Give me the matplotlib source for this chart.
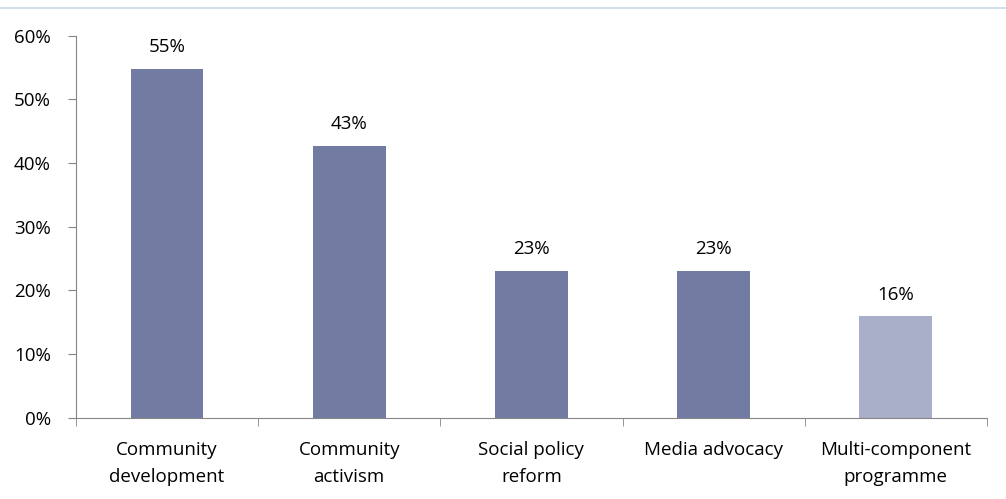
import numpy as np
import matplotlib.pyplot as plt
from matplotlib.lines import Line2D
from matplotlib.ticker import PercentFormatter

categories = ['Community\ndevelopment', 'Community\nactivism', 'Social policy\nreform',
              'Media advocacy', 'Multi-component\nprogramme']
values = [54.8, 42.7, 23.1, 23.1, 15.9]
labels = ['55%', '43%', '23%', '23%', '16%']
colors = ['#727ca3', '#727ca3', '#727ca3', '#727ca3', '#a9afc9']

plt.rcParams['font.family'] = ['Open Sans', 'DejaVu Sans']
fs = 13.5

fig = plt.figure(figsize=(10.06, 4.99), dpi=100)
ax = fig.add_axes([0.0755, 0.163, 0.9055, 0.7655])

x = np.arange(len(categories))
ax.bar(x, values, width=0.4, color=colors)
for xi, v, lab in zip(x, values, labels):
    ax.text(xi, v + 2.0, lab, ha='center', va='bottom', fontsize=fs)

ax.set_xlim(-0.5, len(categories) - 0.5)
ax.set_ylim(0, 60)
ax.set_yticks(np.arange(0, 61, 10))
ax.yaxis.set_major_formatter(PercentFormatter(decimals=0))
ax.set_xticks(x)
ax.set_xticklabels(categories, fontsize=fs, linespacing=1.6)
ax.set_xticks(np.arange(-0.5, len(categories)), minor=True)
ax.tick_params(axis='x', which='major', length=0, pad=17)
ax.tick_params(axis='x', which='minor', length=6, color='#868686', direction='out')
ax.tick_params(axis='y', length=6, color='#868686', labelsize=fs, pad=12)

for s in ['top', 'right']:
    ax.spines[s].set_visible(False)
for s in ['left', 'bottom']:
    ax.spines[s].set_color('#868686')

fig.add_artist(Line2D([0, 1], [0.984, 0.984], transform=fig.transFigure,
                      color='#c8dae6', lw=1.2))

fig.savefig('out.png', dpi=100)
